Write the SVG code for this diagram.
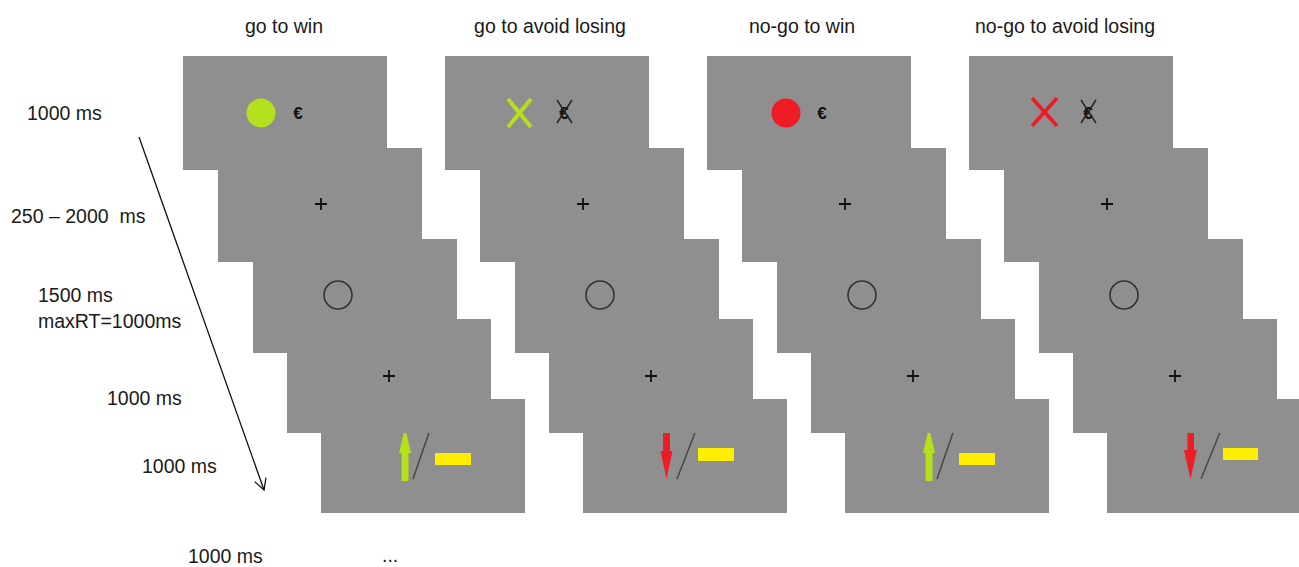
<svg xmlns="http://www.w3.org/2000/svg" width="1299" height="567" viewBox="0 0 1299 567">
<style>
  text { font-family: "Liberation Sans", Arial, sans-serif; fill: #1a1a1a; }
  .lbl { font-size: 19.5px; }
  .title { font-size: 19.5px; text-anchor: middle; }
  .slide { fill: #8f8f8f; }
  .plus { stroke: #111; stroke-width: 1.8; fill: none; }
  .ring { fill: none; stroke: #333; stroke-width: 1.6; }
  .slash { stroke: #474747; stroke-width: 1.5; }
  .euro { font-size: 17px; font-weight: bold; text-anchor: middle; fill: #111; }
  .xcross { stroke: #222; stroke-width: 1.4; }
  .green { fill: #b4e01e; }
  .red { fill: #ee1c24; }
  .yellow { fill: #ffee00; }
  .gx { stroke: #b4e01e; stroke-width: 4; stroke-linecap: butt; }
  .rx { stroke: #ee1c24; stroke-width: 3.6; stroke-linecap: butt; }
</style>
<defs>
  <marker id="vhead" markerWidth="14" markerHeight="14" refX="12" refY="7" orient="auto" markerUnits="userSpaceOnUse">
    <path d="M1,1 L12,7 L1,13" fill="none" stroke="#111" stroke-width="1.3"/>
  </marker>
</defs>
<rect width="1299" height="567" fill="#fff"/>

<!-- titles -->
<g id="titles">
  <text class="title" x="284" y="33">go to win</text>
  <text class="title" x="550" y="33">go to avoid losing</text>
  <text class="title" x="802" y="33">no-go to win</text>
  <text class="title" x="1065" y="33">no-go to avoid losing</text>
</g>

<!-- timing labels -->
<g id="timings">
  <text class="lbl" x="27" y="120">1000 ms</text>
  <text class="lbl" x="11" y="223" style="white-space:pre">250 – 2000  ms</text>
  <text class="lbl" x="38" y="302">1500 ms</text>
  <text class="lbl" x="38" y="328">maxRT=1000ms</text>
  <text class="lbl" x="107" y="405">1000 ms</text>
  <text class="lbl" x="142" y="473">1000 ms</text>
  <text class="lbl" x="188" y="563">1000 ms</text>
  <text class="lbl" x="382" y="562">...</text>
</g>

<!-- column 1: go to win -->
<g id="col-go-win" transform="translate(183,0)">
  <g id="c1-s5"><rect class="slide" x="138" y="399" width="204" height="114"/>
    <polygon class="green" points="222,427 228,453 225.5,453 225.5,481 218.5,481 218.5,453 216,453"/>
    <line class="slash" x1="248" y1="427" x2="230" y2="479"/>
    <rect class="yellow" x="252" y="453" width="36" height="12"/></g>
  <g id="c1-s4"><rect class="slide" x="104" y="319" width="204" height="114"/>
    <path class="plus" d="M200,376 H212 M206,370 V382"/></g>
  <g id="c1-s3"><rect class="slide" x="70" y="239" width="204" height="114"/>
    <circle class="ring" cx="155" cy="295" r="14"/></g>
  <g id="c1-s2"><rect class="slide" x="35" y="148" width="204" height="114"/>
    <path class="plus" d="M132,204 H144 M138,198 V210"/></g>
  <g id="c1-s1"><rect class="slide" x="0" y="56" width="204" height="114"/>
    <circle class="green" cx="78" cy="113" r="14.5"/>
    <text class="euro" x="115" y="119">€</text></g>
</g>

<!-- column 2: go to avoid losing -->
<g id="col-go-avoid" transform="translate(445,0)">
  <g id="c2-s5"><rect class="slide" x="138" y="399" width="204" height="114"/>
    <polygon class="red" points="218,424 225,424 225,451 227.5,451 221.5,479 215.5,451 218,451"/>
    <line class="slash" x1="253" y1="425" x2="232" y2="479"/>
    <rect class="yellow" x="253" y="448" width="36" height="13"/></g>
  <g id="c2-s4"><rect class="slide" x="104" y="319" width="204" height="114"/>
    <path class="plus" d="M200,376 H212 M206,370 V382"/></g>
  <g id="c2-s3"><rect class="slide" x="70" y="239" width="204" height="114"/>
    <circle class="ring" cx="155" cy="295" r="14"/></g>
  <g id="c2-s2"><rect class="slide" x="35" y="148" width="204" height="114"/>
    <path class="plus" d="M132,204 H144 M138,198 V210"/></g>
  <g id="c2-s1"><rect class="slide" x="0" y="56" width="204" height="114"/>
    <line class="gx" x1="63" y1="99" x2="86" y2="127"/>
    <line class="gx" x1="86" y1="99" x2="63" y2="127"/>
    <text class="euro" x="119" y="119">€</text>
    <line class="xcross" x1="112" y1="100" x2="127" y2="123"/>
    <line class="xcross" x1="127" y1="100" x2="112" y2="123"/></g>
</g>

<!-- column 3: no-go to win -->
<g id="col-nogo-win" transform="translate(707,0)">
  <g id="c3-s5"><rect class="slide" x="138" y="399" width="204" height="114"/>
    <polygon class="green" points="222,427 228,453 225.5,453 225.5,481 218.5,481 218.5,453 216,453"/>
    <line class="slash" x1="248" y1="427" x2="230" y2="479"/>
    <rect class="yellow" x="252" y="453" width="36" height="12"/></g>
  <g id="c3-s4"><rect class="slide" x="104" y="319" width="204" height="114"/>
    <path class="plus" d="M200,376 H212 M206,370 V382"/></g>
  <g id="c3-s3"><rect class="slide" x="70" y="239" width="204" height="114"/>
    <circle class="ring" cx="155" cy="295" r="14"/></g>
  <g id="c3-s2"><rect class="slide" x="35" y="148" width="204" height="114"/>
    <path class="plus" d="M132,204 H144 M138,198 V210"/></g>
  <g id="c3-s1"><rect class="slide" x="0" y="56" width="204" height="114"/>
    <circle class="red" cx="79" cy="113" r="14.5"/>
    <text class="euro" x="115" y="119">€</text></g>
</g>

<!-- column 4: no-go to avoid losing -->
<g id="col-nogo-avoid" transform="translate(969,0)">
  <g id="c4-s5"><rect class="slide" x="138" y="399" width="204" height="114"/>
    <polygon class="red" points="218.5,424 225,424 225,450 228,450 221.5,479 215,450 218.5,450"/>
    <line class="slash" x1="254" y1="425" x2="232" y2="479"/>
    <rect class="yellow" x="254" y="448" width="35" height="12"/></g>
  <g id="c4-s4"><rect class="slide" x="104" y="319" width="204" height="114"/>
    <path class="plus" d="M200,376 H212 M206,370 V382"/></g>
  <g id="c4-s3"><rect class="slide" x="70" y="239" width="204" height="114"/>
    <circle class="ring" cx="155" cy="295" r="14"/></g>
  <g id="c4-s2"><rect class="slide" x="35" y="148" width="204" height="114"/>
    <path class="plus" d="M132,204 H144 M138,198 V210"/></g>
  <g id="c4-s1"><rect class="slide" x="0" y="56" width="204" height="114"/>
    <line class="rx" x1="63" y1="98" x2="88" y2="126"/>
    <line class="rx" x1="88" y1="98" x2="63" y2="126"/>
    <text class="euro" x="119" y="119">€</text>
    <line class="xcross" x1="112" y1="100" x2="127" y2="123"/>
    <line class="xcross" x1="127" y1="100" x2="112" y2="123"/></g>
</g>

<!-- time arrow -->
<g id="connectors">
  <line x1="139" y1="137" x2="264" y2="490" stroke="#111" stroke-width="1.3" marker-end="url(#vhead)"/>
</g>
</svg>
